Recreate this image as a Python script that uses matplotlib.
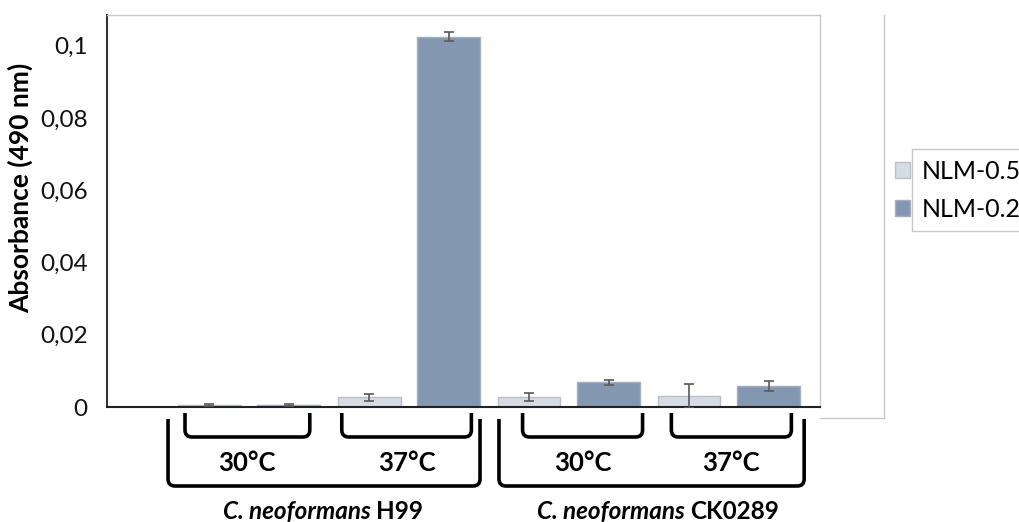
import matplotlib.pyplot as plt
from matplotlib.path import Path
from matplotlib.patches import PathPatch, Rectangle, Patch
from matplotlib.lines import Line2D
from matplotlib.transforms import blended_transform_factory

plt.rcParams['font.family'] = ['Lato', 'DejaVu Sans']

# absorbance at 490 nm, one value per strain/temperature group
groups = ['H99 30°C', 'H99 37°C', 'CK0289 30°C', 'CK0289 37°C']
nlm05 = [0.0005, 0.0027, 0.0027, 0.0030]
nlm05_err = [0.0003, 0.0010, 0.0011, 0.0034]
nlm02 = [0.0005, 0.1025, 0.0069, 0.0057]
nlm02_err = [0.0003, 0.0012, 0.0007, 0.0014]

temp_labels = ['30°C', '37°C', '30°C', '37°C']
strain_labels = ['H99', 'CK0289']
yticks = [0, 0.02, 0.04, 0.06, 0.08, 0.1]
ytick_labels = ['0', '0,02', '0,04', '0,06', '0,08', '0,1']

light = '#d6dce5'
dark = '#8497b0'
gray_line = '#c8c8c8'

W, H = 1020, 522
fig = plt.figure(figsize=(W / 100, H / 100), dpi=100)
ax = fig.add_axes([107 / W, (H - 407) / H, 713 / W, 392 / H])

x = list(range(len(groups)))
off = 0.248
bw = 0.39
ax.bar([i - off for i in x], nlm05, bw, color=light, edgecolor='#b9c0cb',
       linewidth=1, label='NLM-0.5', zorder=2)
ax.bar([i + off for i in x], nlm02, bw, color=dark, edgecolor='#a3afc1',
       linewidth=1, label='NLM-0.2', zorder=2)
ax.errorbar([i - off for i in x], nlm05, yerr=nlm05_err, fmt='none',
            ecolor='#595959', elinewidth=1.2, capsize=3.5, capthick=1.2, zorder=3)
ax.errorbar([i + off for i in x], nlm02, yerr=nlm02_err, fmt='none',
            ecolor='#595959', elinewidth=1.2, capsize=3.5, capthick=1.2, zorder=3)

ax.set_xlim(-0.8875, 3.569)
ax.set_ylim(0, 0.1085)
ax.set_yticks(yticks)
ax.set_yticklabels(ytick_labels)
ax.set_xticks([])
ax.tick_params(axis='y', length=0, pad=14, labelsize=17.5, labelcolor='#111111')

for side in ['top', 'right']:
    ax.spines[side].set_color(gray_line)
    ax.spines[side].set_linewidth(1)
ax.spines['left'].set_color('#333333')
ax.spines['left'].set_linewidth(1.5)
ax.spines['bottom'].set_color('#222222')
ax.spines['bottom'].set_linewidth(1.5)

ax.set_ylabel('Absorbance (490 nm)', fontsize=19, fontweight='bold')
ax.yaxis.set_label_coords(-0.103, 0.559)

# chart area border to the right of the plot
fig.add_artist(Line2D([884 / W, 884 / W], [1 - 15 / H, 1 - 418 / H],
                      color=gray_line, linewidth=1))
fig.add_artist(Line2D([820 / W, 884 / W], [1 - 418 / H, 1 - 418 / H],
                      color=gray_line, linewidth=1))

# legend box and entries
fig.add_artist(Rectangle((912 / W, 1 - 231 / H), 0.2, 82 / H, transform=fig.transFigure,
                         facecolor='white', edgecolor=gray_line, linewidth=1, zorder=1))
handles = [Patch(facecolor=light, edgecolor='#b9c0cb'),
           Patch(facecolor=dark, edgecolor='#a3afc1')]
leg = fig.legend(handles, ['NLM-0.5', 'NLM-0.2'], loc='upper left',
                 bbox_to_anchor=(885 / W, 1 - 150 / H), frameon=False,
                 fontsize=18, handlelength=0.62, handleheight=0.62,
                 handletextpad=0.45, labelspacing=0.6, borderaxespad=0)
leg.set_zorder(5)

# brackets below the axis
trans = blended_transform_factory(ax.transData, fig.transFigure)
rx = 7 / 160
ry = 7 / H


def bracket(x0, x1, ytop, ybot):
    yt = 1 - ytop / H
    yb = 1 - ybot / H
    verts = [(x0, yt), (x0, yb + ry), (x0, yb), (x0 + rx, yb),
             (x1 - rx, yb), (x1, yb), (x1, yb + ry), (x1, yt)]
    codes = [Path.MOVETO, Path.LINETO, Path.CURVE3, Path.CURVE3,
             Path.LINETO, Path.CURVE3, Path.CURVE3, Path.LINETO]
    fig.add_artist(PathPatch(Path(verts, codes), transform=trans, fill=False,
                             edgecolor='black', linewidth=2.6, capstyle='butt'))


inner_spans = [(-0.40, 0.38), (0.58, 1.39), (1.71, 2.46), (2.64, 3.39)]
for (x0, x1), lab in zip(inner_spans, temp_labels):
    bracket(x0, x1, 413, 437)
    fig.text((x0 + x1) / 2, 1 - 463 / H, lab, transform=trans, ha='center',
             va='center', fontsize=18.5, fontweight='bold')

outer_spans = [(-0.506, 1.444), (1.5625, 3.47)]
name_right = [(371 - 249) / 160, (685 - 249) / 160]
for (x0, x1), strain, xr in zip(outer_spans, strain_labels, name_right):
    bracket(x0, x1, 419, 486)
    fig.text(xr, 1 - 519 / H, 'C. neoformans', transform=trans, ha='right',
             va='baseline', fontsize=17.5, fontweight='bold', style='italic')
    fig.text(xr + 5 / 160, 1 - 519 / H, strain, transform=trans, ha='left',
             va='baseline', fontsize=17.5, fontweight='bold')

fig.savefig('out.png', dpi=100)
